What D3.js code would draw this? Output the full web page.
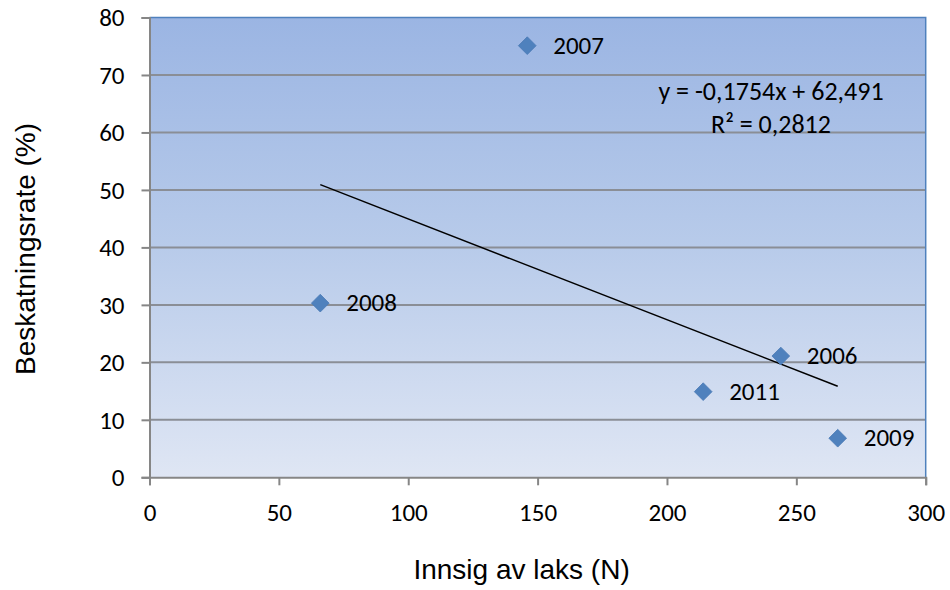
<!DOCTYPE html>
<html>
<head>
<meta charset="utf-8">
<script src="https://cdn.jsdelivr.net/npm/d3@7"></script>
<style>
  html, body { margin: 0; padding: 0; background: #ffffff; }
  svg { display: block; }
</style>
</head>
<body>
<svg id="chart" width="950" height="590"></svg>
<script>
// Innsig (returning salmon) vs. harvest rate per year
const years    = ["2007", "2008", "2006", "2011", "2009"];
const innsig   = [146, 66, 244, 214, 266];
const rate     = [75.1, 30.3, 21.1, 14.9, 6.8];

// Linear trend line as stated in its label
const slope     = -0.1754;
const intercept = 62.491;
const rSquared  = "0,2812";

const xTicks = [0, 50, 100, 150, 200, 250, 300];
const yTicks = [0, 10, 20, 30, 40, 50, 60, 70, 80];

const xTitle = "Innsig av laks (N)";
const yTitle = "Beskatningsrate (%)";

const svg = d3.select("#chart");
const plot = { left: 149.5, right: 925.7, top: 17.5, bottom: 477.3 };

const x = d3.scaleLinear().domain([0, 300]).range([plot.left, plot.right]);
const y = d3.scaleLinear().domain([0, 80]).range([plot.bottom, plot.top]);

const tickFont = "Carlito, Lato, 'Open Sans', sans-serif";
const titleFont = "'Liberation Sans', Arial, sans-serif";
const labelSize = "25px";

// Plot area background gradient
const defs = svg.append("defs");
const grad = defs.append("linearGradient")
  .attr("id", "plotBg").attr("x1", 0).attr("y1", 0).attr("x2", 0).attr("y2", 1);
grad.append("stop").attr("offset", "0%").attr("stop-color", "#9bb5e3");
grad.append("stop").attr("offset", "50%").attr("stop-color", "#b8cbea");
grad.append("stop").attr("offset", "100%").attr("stop-color", "#dfe6f4");

svg.append("rect")
  .attr("x", plot.left).attr("y", plot.top)
  .attr("width", plot.right - plot.left).attr("height", plot.bottom - plot.top)
  .attr("fill", "url(#plotBg)");

// Horizontal gridlines
svg.append("g")
  .selectAll("line")
  .data(yTicks.filter(d => d > 0 && d < 80))
  .join("line")
  .attr("x1", plot.left).attr("x2", plot.right)
  .attr("y1", d => y(d)).attr("y2", d => y(d))
  .attr("stroke", "#8a8e96").attr("stroke-width", 2);

// Top and right border
svg.append("path")
  .attr("d", `M${plot.left},${plot.top}H${plot.right}V${plot.bottom}`)
  .attr("fill", "none").attr("stroke", "#4f81bd").attr("stroke-width", 1.5);

// Axes
const yAxis = d3.axisLeft(y).tickValues(yTicks).tickSize(8).tickPadding(17).tickFormat(d3.format("d"));
const xAxis = d3.axisBottom(x).tickValues(xTicks).tickSize(8).tickPadding(12).tickFormat(d3.format("d"));

const gy = svg.append("g").attr("transform", `translate(${plot.left},0)`).call(yAxis);
const gx = svg.append("g").attr("transform", `translate(0,${plot.bottom})`).call(xAxis);

[gx, gy].forEach(g => {
  g.select(".domain").attr("stroke", "#868686").attr("stroke-width", 2);
  g.selectAll(".tick line").attr("stroke", "#868686").attr("stroke-width", 2);
  g.selectAll(".tick text")
    .attr("fill", "#000")
    .style("font-family", tickFont).style("font-size", labelSize);
});
gx.selectAll(".tick text").attr("y", 44).attr("dy", 0);
gy.selectAll(".tick text").attr("dy", "0.33em");

// Trend line across the data range
const [xMin, xMax] = d3.extent(innsig);
svg.append("line")
  .attr("x1", x(xMin)).attr("y1", y(slope * xMin + intercept))
  .attr("x2", x(xMax)).attr("y2", y(slope * xMax + intercept))
  .attr("stroke", "#000").attr("stroke-width", 1.5);

// Diamond markers with year labels
const points = years.map((yr, i) => ({ yr, xv: innsig[i], yv: rate[i] }));
const diamond = d3.symbol().type(d3.symbolDiamond2).size(200);

svg.append("g")
  .selectAll("path")
  .data(points)
  .join("path")
  .attr("d", diamond)
  .attr("transform", d => `translate(${x(d.xv)},${y(d.yv)})`)
  .attr("fill", "#4f81bd").attr("stroke", "#4a7ab5").attr("stroke-width", 0.8);

svg.append("g")
  .selectAll("text")
  .data(points)
  .join("text")
  .attr("x", d => x(d.xv) + 26)
  .attr("y", d => y(d.yv))
  .attr("dy", "0.33em")
  .style("font-family", tickFont).style("font-size", labelSize)
  .attr("fill", "#000")
  .text(d => d.yr);

// Trend line equation
const fmt = v => String(v).replace(".", ",");
const eq = svg.append("g")
  .attr("text-anchor", "middle")
  .style("font-family", tickFont).style("font-size", "26px");
eq.append("text")
  .attr("x", 771).attr("y", 91).attr("dy", "0.33em")
  .text(`y = ${fmt(slope)}x + ${fmt(intercept)}`);
eq.append("text")
  .attr("x", 771).attr("y", 124.5).attr("dy", "0.33em")
  .text(`R² = ${rSquared}`);

// Axis titles
svg.append("text")
  .attr("x", (plot.left + plot.right) / 2 - 16).attr("y", 579)
  .attr("text-anchor", "middle")
  .style("font-family", titleFont).style("font-size", "28px")
  .text(xTitle);

svg.append("text")
  .attr("transform", `translate(35,${249}) rotate(-90)`)
  .attr("text-anchor", "middle")
  .style("font-family", titleFont).style("font-size", "28px")
  .text(yTitle);
</script>
</body>
</html>
